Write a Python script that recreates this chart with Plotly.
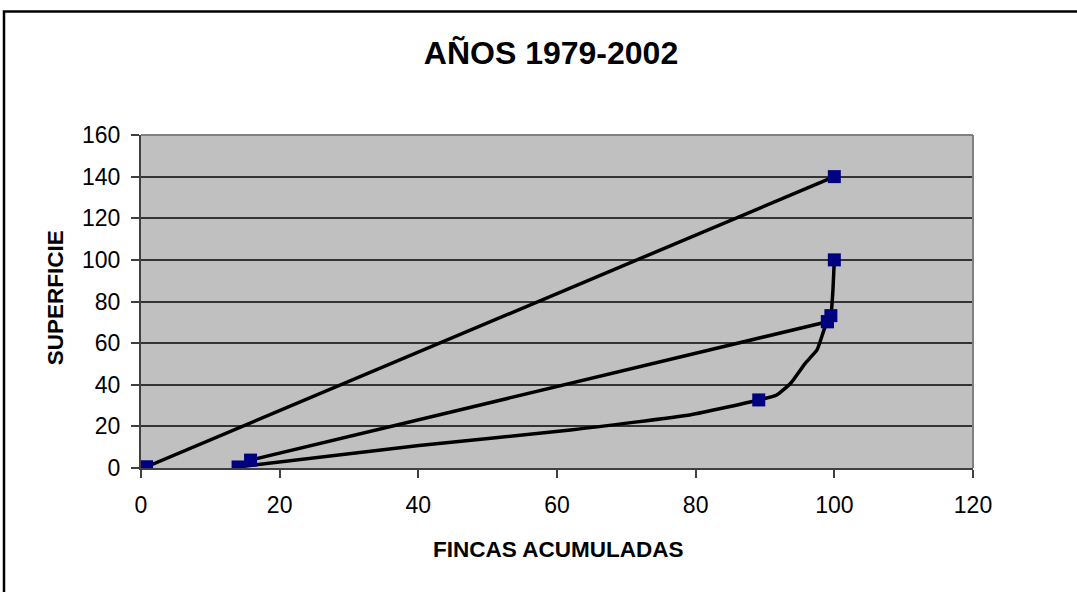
import plotly.graph_objects as go

# Data
# marked points
top_x = [0.8, 100.0]
top_y = [0.6, 140.0]

mid_x = [15.8, 99.0]
mid_y = [3.8, 70.3]

low_mark_x = [14.0, 89.1, 99.0, 99.5, 100.0]
low_mark_y = [0.5, 32.7, 70.3, 73.2, 100.0]

# path of the lower curve as drawn
low_path_x = [14.0, 40.1, 62.3, 79.3, 89.1, 91.7, 93.7, 95.8, 97.5, 98.5, 99.0, 99.5, 99.8, 100.0]
low_path_y = [0.5, 10.8, 18.4, 25.6, 32.7, 35.1, 40.7, 50.3, 56.7, 66.3, 70.3, 73.2, 85.6, 100.0]

x_ticks = [0, 20, 40, 60, 80, 100, 120]
y_ticks = [0, 20, 40, 60, 80, 100, 120, 140, 160]

FONT = "Liberation Sans, Arial, sans-serif"
NAVY = "#000080"
LINE = dict(color="black", width=3.5)
MARK = dict(symbol="square", size=13, color=NAVY, line=dict(color=NAVY, width=0))

fig = go.Figure()
fig.add_trace(go.Scatter(x=top_x, y=top_y, mode="lines", line=LINE,
                         showlegend=False, hoverinfo="skip"))
fig.add_trace(go.Scatter(x=mid_x, y=mid_y, mode="lines", line=LINE,
                         showlegend=False, hoverinfo="skip"))
fig.add_trace(go.Scatter(x=low_path_x, y=low_path_y, mode="lines",
                         line=dict(color="black", width=3.5, shape="spline", smoothing=0.4),
                         showlegend=False, hoverinfo="skip"))
for xs, ys in [(top_x, top_y), (mid_x, mid_y), (low_mark_x, low_mark_y)]:
    fig.add_trace(go.Scatter(x=xs, y=ys, mode="markers", marker=MARK,
                             showlegend=False, hoverinfo="x+y"))

W, H = 1077, 592
fig.update_layout(
    width=W, height=H,
    margin=dict(l=141, r=104, t=135, b=124),
    paper_bgcolor="white",
    plot_bgcolor="#C0C0C0",
    font=dict(family=FONT, color="black"),
    title=dict(text="<b>AÑOS 1979-2002</b>", x=551 / W, xref="container", xanchor="center",
               y=1 - 53 / H, yref="container", yanchor="middle",
               font=dict(size=32, family=FONT, color="black")),
    xaxis=dict(range=[0, 120], tickvals=x_ticks, showgrid=False, zeroline=False,
               showline=True, linecolor="#404040", linewidth=2,
               ticks="outside", ticklen=8, tickcolor="#404040", tickwidth=1.5,
               tickfont=dict(size=23, family=FONT, color="black"), ticklabelstandoff=7),
    yaxis=dict(range=[0, 160], tickvals=y_ticks, showgrid=True, gridcolor="#333333", gridwidth=1.5,
               zeroline=False, showline=True, linecolor="#404040", linewidth=2,
               ticks="outside", ticklen=8, tickcolor="#404040", tickwidth=1.5,
               tickfont=dict(size=23, family=FONT, color="black"), ticklabelstandoff=6),
    annotations=[
        dict(text="<b>FINCAS ACUMULADAS</b>", xref="paper", yref="paper",
             x=0.501, y=(468 - 550) / 333.3, xanchor="center", yanchor="middle",
             showarrow=False, font=dict(size=22.5, family=FONT, color="black")),
        dict(text="<b>SUPERFICIE</b>", xref="paper", yref="paper",
             x=(55 - 141) / 832, y=0.51, xanchor="center", yanchor="middle", textangle=-90,
             showarrow=False, font=dict(size=22.5, family=FONT, color="black")),
    ],
    shapes=[
        dict(type="line", xref="paper", yref="paper", x0=0, x1=1, y0=1, y1=1,
             line=dict(color="#808080", width=2)),
        dict(type="line", xref="paper", yref="paper", x0=1, x1=1, y0=0, y1=1,
             line=dict(color="#808080", width=2)),
        dict(type="rect", xref="paper", yref="paper",
             x0=(4 - 141) / 832, x1=(1100 - 141) / 832,
             y0=(468 - 620) / 333.3, y1=(468 - 11) / 333.3,
             line=dict(color="black", width=2.5), fillcolor="rgba(0,0,0,0)", layer="above"),
    ],
)

fig.write_html("out.html", config={"displayModeBar": False},
               post_script="document.body.style.margin='0px';")
